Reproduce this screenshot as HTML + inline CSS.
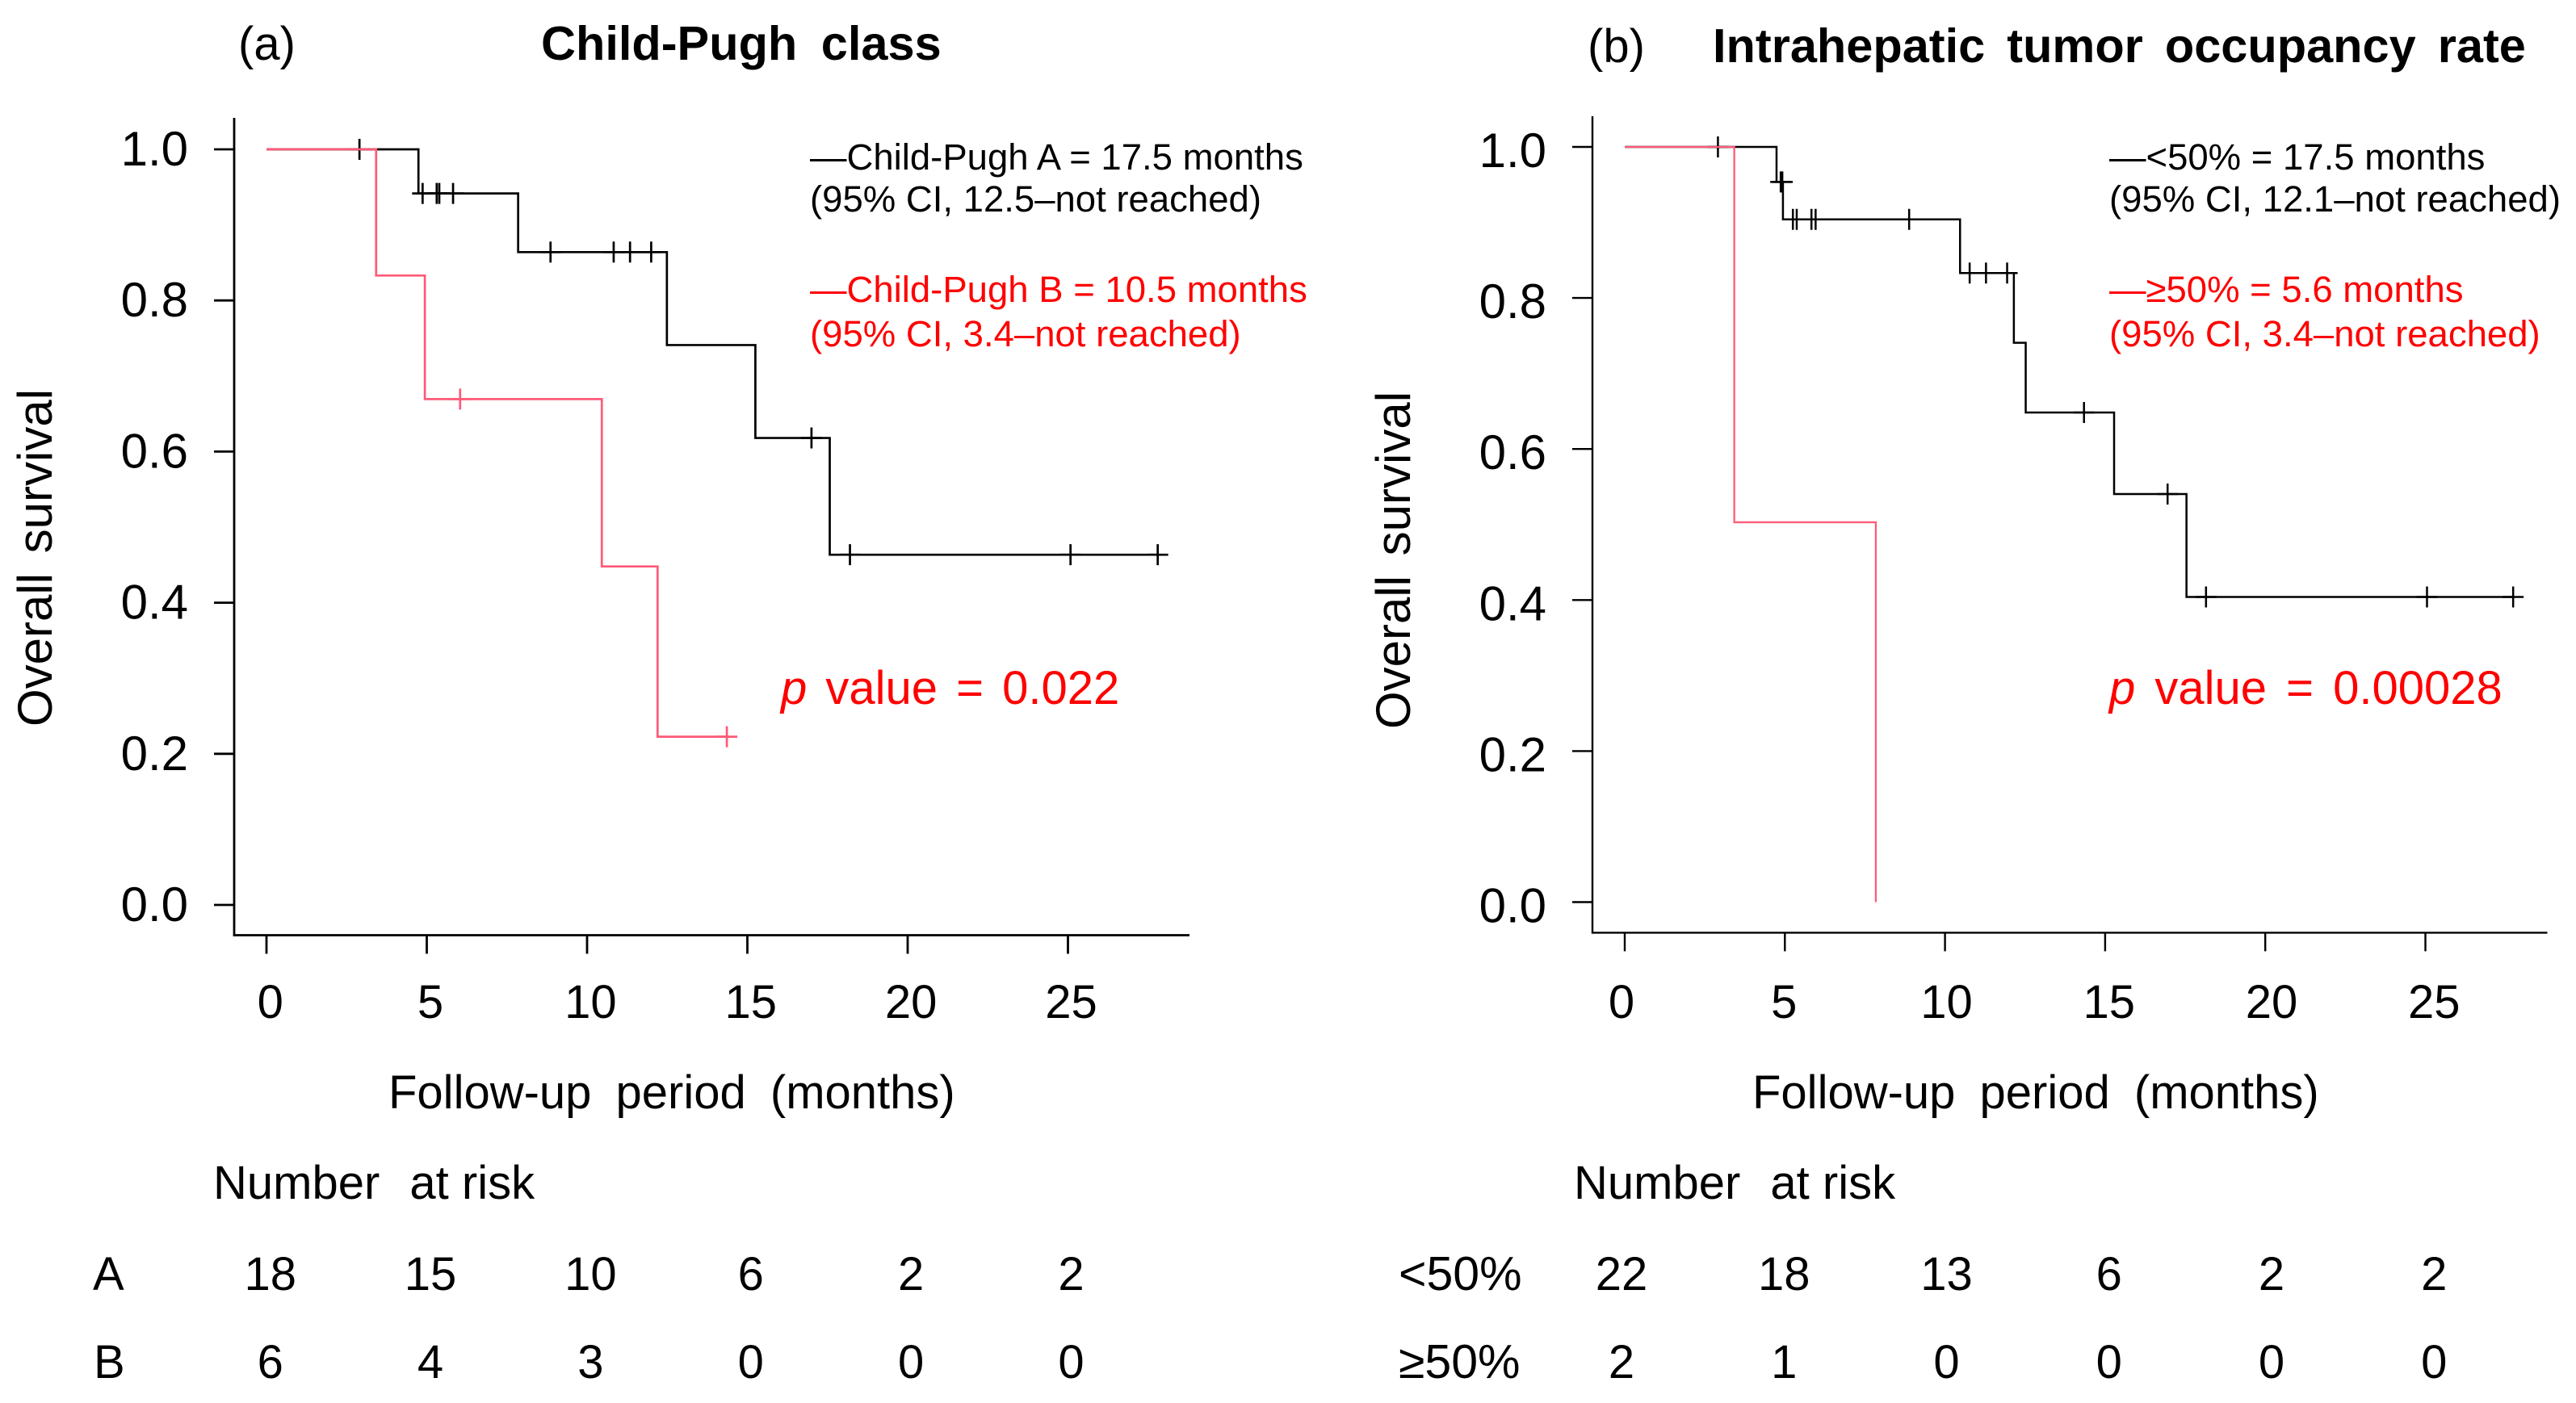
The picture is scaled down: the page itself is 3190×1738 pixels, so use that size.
<!DOCTYPE html>
<html lang="en">
<head>
<meta charset="utf-8">
<title>Kaplan-Meier overall survival curves</title>
<style>
html,body{margin:0;padding:0;background:#fff;width:3190px;height:1738px;overflow:hidden}
svg{display:block}
text{font-family:"Liberation Sans",Arial,sans-serif;font-size:58px;fill:#000}
.leg{font-size:45.5px}
.red{fill:#f00}
.bold{font-weight:700;font-size:59.5px}
</style>
</head>
<body>
<svg id="figure" xmlns="http://www.w3.org/2000/svg" width="3190" height="1738" viewBox="0 0 3190 1738">
  <rect width="3190" height="1738" fill="#fff"/>

  <g id="panel-a">
    <text x="295" y="74">(a)</text>
    <text class="bold" x="670" y="74" style="word-spacing:13px">Child-Pugh class</text>
    <text transform="translate(64,691) rotate(-90)" text-anchor="middle" style="font-size:60px;word-spacing:8px">Overall survival</text>
    <text x="481" y="1373" style="word-spacing:14px">Follow-up period (months)</text>
    <text class="leg" x="1003" y="210">—Child-Pugh A = 17.5 months</text>
    <text class="leg" x="1003" y="262">(95% CI, 12.5–not reached)</text>
    <text class="leg red" x="1003" y="374">—Child-Pugh B = 10.5 months</text>
    <text class="leg red" x="1003" y="429">(95% CI, 3.4–not reached)</text>
    <text class="red" x="967" y="872" style="word-spacing:7px"><tspan font-style="italic">p</tspan> value = 0.022</text>
    <text x="264" y="1485">Number <tspan dx="21">at risk</tspan></text>
    <text x="115" y="1598">A</text>
    <text x="116" y="1707">B</text>
  </g>

  <g id="panel-b">
    <text x="1966" y="77">(b)</text>
    <text class="bold" x="2121" y="77" style="word-spacing:10.5px">Intrahepatic tumor occupancy rate</text>
    <text transform="translate(1746,694) rotate(-90)" text-anchor="middle" style="font-size:60px;word-spacing:8px">Overall survival</text>
    <text x="2170" y="1373" style="word-spacing:14px">Follow-up period (months)</text>
    <text class="leg" x="2612" y="210">—&lt;50% = 17.5 months</text>
    <text class="leg" x="2612" y="262">(95% CI, 12.1–not reached)</text>
    <text class="leg red" x="2612" y="374">—≥50% = 5.6 months</text>
    <text class="leg red" x="2612" y="429">(95% CI, 3.4–not reached)</text>
    <text class="red" x="2612" y="872" style="word-spacing:8px"><tspan font-style="italic">p</tspan> value = 0.00028</text>
    <text x="1949" y="1485">Number <tspan dx="21">at risk</tspan></text>
    <text x="1732" y="1598" style="font-size:59px">&lt;50%</text>
    <text x="1732" y="1707" style="font-size:59px">≥50%</text>
  </g>
</svg>

<script>
// Shared axis ticks
const timeTicks = [0, 5, 10, 15, 20, 25];
const survivalTicks = [0, 0.2, 0.4, 0.6, 0.8, 1.0];

// Panel (a): Child-Pugh class
const aClassATimes = [0, 4.74, 7.85, 12.49, 15.25, 17.57];
const aClassASurvival = [1, 0.9416, 0.864, 0.741, 0.618, 0.4635];
const aClassACensored = [2.9, 4.87, 5.31, 5.39, 5.82, 8.86, 10.83, 11.34, 12.0, 17.0, 18.2, 25.08, 27.8];
const aClassBTimes = [0, 3.42, 4.94, 10.46, 12.2];
const aClassBSurvival = [1, 0.833, 0.6695, 0.448, 0.2226];
const aClassBCensored = [6.04, 14.36];
const aRiskClassA = [18, 15, 10, 6, 2, 2];
const aRiskClassB = [6, 4, 3, 0, 0, 0];

// Panel (b): Intrahepatic tumor occupancy rate
const bLowTimes = [0, 4.74, 4.94, 10.47, 12.15, 12.52, 15.28, 17.54];
const bLowSurvival = [1, 0.9537, 0.904, 0.833, 0.7406, 0.6483, 0.5403, 0.4041];
const bLowCensored = [2.91, 4.87, 4.92, 5.25, 5.37, 5.83, 5.96, 8.88, 10.77, 11.28, 11.94, 14.34, 16.95, 18.15, 25.05, 27.74];
const bHighTimes = [0, 3.42, 7.84];
const bHighSurvival = [1, 0.503, 0];
const bHighCensored = [];
const bRiskLow = [22, 18, 13, 6, 2, 2];
const bRiskHigh = [2, 1, 0, 0, 0, 0];

const SVG_NS = 'http://www.w3.org/2000/svg';
const BLACK = '#000';
const PINK = '#ff5a78';
const TICK_ARM = 13;

function shape(parent, tag, attrs) {
  const el = document.createElementNS(SVG_NS, tag);
  for (const k in attrs) el.setAttribute(k, attrs[k]);
  parent.appendChild(el);
  return el;
}

function survivalAt(times, survival, t) {
  let s = survival[0];
  for (let i = 0; i < times.length; i++) if (times[i] <= t) s = survival[i];
  return s;
}

function drawSeries(parent, prefix, sx, sy, times, survival, censored, color, width) {
  const last = censored.length ? Math.max(times[times.length - 1], censored[censored.length - 1]) : times[times.length - 1];
  let d = 'M' + sx(times[0]) + ' ' + sy(survival[0]);
  for (let i = 1; i < times.length; i++) {
    d += 'H' + sx(times[i]) + 'V' + sy(survival[i]);
  }
  d += 'H' + sx(last);
  const path = shape(parent, 'path', {d: d, fill: 'none', stroke: color, 'stroke-width': width, 'stroke-linejoin': 'miter'});
  
  
  censored.forEach(function (t) {
    const cx = sx(t);
    const cy = sy(survivalAt(times, survival, t));
    const mark = shape(parent, 'path', {
      d: 'M' + (cx - TICK_ARM) + ' ' + cy + 'H' + (cx + TICK_ARM) + 'M' + cx + ' ' + (cy - TICK_ARM) + 'V' + (cy + TICK_ARM),
      fill: 'none', stroke: color, 'stroke-width': width
    });
    
    
  });
}

function drawAxes(parent, prefix, geo, sx, sy, labelX) {
  const axisY = shape(parent, 'line', {x1: geo.left, x2: geo.left, y1: geo.top, y2: geo.bottom + geo.axisWidth / 2, stroke: BLACK, 'stroke-width': geo.axisWidth});
  
  
  const axisX = shape(parent, 'line', {x1: geo.left, x2: geo.right, y1: geo.bottom, y2: geo.bottom, stroke: BLACK, 'stroke-width': geo.axisWidth});
  
  

  survivalTicks.forEach(function (v) {
    const tick = shape(parent, 'line', {x1: geo.left - 25, x2: geo.left, y1: sy(v), y2: sy(v), stroke: BLACK, 'stroke-width': geo.axisWidth});
    
    
    const label = shape(parent, 'text', {x: geo.yLabelRight, y: sy(v) + geo.yLabelDy, 'text-anchor': 'end', style: 'font-size:60px'});
    
    
    label.textContent = v.toFixed(1);
  });

  timeTicks.forEach(function (t) {
    const tick = shape(parent, 'line', {x1: sx(t), x2: sx(t), y1: geo.bottom, y2: geo.bottom + 23, stroke: BLACK, 'stroke-width': geo.axisWidth});
    
    
    const label = shape(parent, 'text', {x: labelX(t), y: 1261, 'text-anchor': 'middle'});
    
    
    label.textContent = String(t);
  });
}

function drawRiskRow(parent, prefix, values, baseline, labelX) {
  values.forEach(function (n, i) {
    const cell = shape(parent, 'text', {x: labelX(timeTicks[i]), y: baseline, 'text-anchor': 'middle'});
    
    
    cell.textContent = String(n);
  });
}

// Panel (a) scales
const axA = function (t) { return 330 + 39.7 * t; };
const ayA = function (v) { return 1121 - 936 * v; };
const alA = function (t) { return 334.7 + 39.67 * t; };
const panelA = document.getElementById('panel-a');
drawAxes(panelA, 'panel-a', {left: 290, right: 1473, top: 146, bottom: 1158.5, axisWidth: 2.8, yLabelRight: 233, yLabelDy: 20}, axA, ayA, alA);
drawSeries(panelA, 'child-pugh-a', axA, ayA, aClassATimes, aClassASurvival, aClassACensored, BLACK, 2.7);
drawSeries(panelA, 'child-pugh-b', axA, ayA, aClassBTimes, aClassBSurvival, aClassBCensored, PINK, 2.7);
drawRiskRow(panelA, 'panel-a-risk-a', aRiskClassA, 1598, alA);
drawRiskRow(panelA, 'panel-a-risk-b', aRiskClassB, 1707, alA);

// Panel (b) scales
const axB = function (t) { return 2012 + 39.66 * t; };
const ayB = function (v) { return 1117.5 - 935.5 * v; };
const alB = function (t) { return 2008 + 40.25 * t; };
const panelB = document.getElementById('panel-b');
drawAxes(panelB, 'panel-b', {left: 1972, right: 3154.5, top: 144, bottom: 1155.4, axisWidth: 2.4, yLabelRight: 1915, yLabelDy: 25}, axB, ayB, alB);
drawSeries(panelB, 'occupancy-low', axB, ayB, bLowTimes, bLowSurvival, bLowCensored, BLACK, 2.5);
drawSeries(panelB, 'occupancy-high', axB, ayB, bHighTimes, bHighSurvival, bHighCensored, PINK, 2.3);
drawRiskRow(panelB, 'panel-b-risk-low', bRiskLow, 1598, alB);
drawRiskRow(panelB, 'panel-b-risk-high', bRiskHigh, 1707, alB);
</script>
</body>
</html>
